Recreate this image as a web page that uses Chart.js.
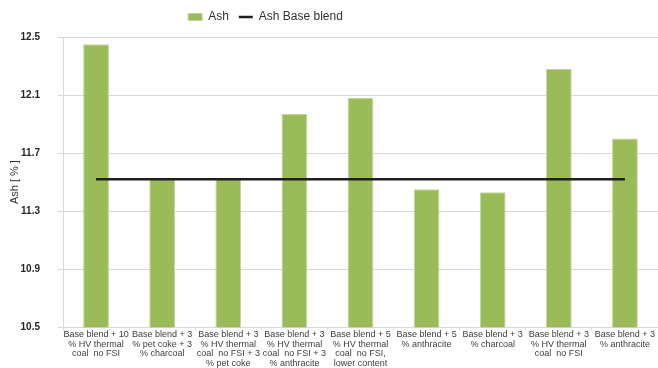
<!DOCTYPE html>
<html>
<head>
<meta charset="utf-8">
<script src="https://cdn.jsdelivr.net/npm/chart.js@4.4.1/dist/chart.umd.min.js"></script>
<style>
  html, body { margin: 0; padding: 0; background: #fff; }
  #wrap { width: 658px; height: 368px; }
</style>
</head>
<body>
<div id="wrap"><canvas id="c" width="658" height="368"></canvas></div>
<script>
// Blend recipes (one multi-line label per blend)
const categories = [
  ["Base blend + 10", "% HV thermal", "coal  no FSI"],
  ["Base blend + 3", "% pet coke + 3", "% charcoal"],
  ["Base blend + 3", "% HV thermal", "coal  no FSI + 3", "% pet coke"],
  ["Base blend + 3", "% HV thermal", "coal  no FSI + 3", "% anthracite"],
  ["Base blend + 5", "% HV thermal", "coal  no FSI,", "lower content"],
  ["Base blend + 5", "% anthracite"],
  ["Base blend + 3", "% charcoal"],
  ["Base blend + 3", "% HV thermal", "coal  no FSI"],
  ["Base blend + 3", "% anthracite"]
];

// Ash content of each blend [%]
const ashValues = [12.45, 11.53, 11.53, 11.97, 12.08, 11.45, 11.43, 12.28, 11.80];

// Ash content of the base blend [%], constant reference level
const ashBase = 11.52;
const ashBaseValues = [ashBase, ashBase, ashBase, ashBase, ashBase, ashBase, ashBase, ashBase, ashBase];

// Value axis
const yMin = 10.5;
const yMax = 12.5;
const yStep = 0.4;

const FONT = "'Liberation Sans', Arial, sans-serif";

// Keeps the legend centred over the left part of the figure, a little higher up
const legendShift = {
  id: 'legendShift',
  beforeDraw(chart) {
    const lg = chart.legend;
    if (lg && !lg._shifted) {
      lg.left = 2;
      lg.right = 529;
      lg.top -= 4;
      lg.bottom -= 4;
      lg._shifted = true;
    }
  }
};

new Chart(document.getElementById('c'), {
  type: 'bar',
  data: {
    labels: categories,
    datasets: [
      {
        type: 'line',
        label: 'Ash Base blend',
        data: ashBaseValues,
        borderColor: '#1f1f1f',
        backgroundColor: '#1f1f1f',
        borderWidth: 2.5,
        pointRadius: 0,
        pointHoverRadius: 0,
        pointStyle: 'line',
        order: 0
      },
      {
        type: 'bar',
        label: 'Ash',
        data: ashValues,
        backgroundColor: '#9bbb59',
        borderColor: '#c2d69b',
        borderWidth: 1,
        pointStyle: 'rect',
        barPercentage: 0.39,
        categoryPercentage: 1.0,
        order: 1
      }
    ]
  },
  options: {
    responsive: false,
    animation: false,
    devicePixelRatio: 1,
    layout: { padding: { left: 4, right: 0, top: 5, bottom: 0 } },
    plugins: {
      legend: {
        position: 'top',
        reverse: true,
        labels: {
          usePointStyle: true,
          pointStyleWidth: 14,
          boxHeight: 7,
          boxWidth: 14,
          padding: 10,
          color: '#333',
          font: { family: FONT, size: 12 }
        }
      },
      tooltip: { enabled: false }
    },
    scales: {
      x: {
        offset: true,
        grid: {
          offset: true,
          drawOnChartArea: false,
          drawTicks: true,
          tickLength: 3,
          color: '#d9d9d9'
        },
        border: { color: '#d9d9d9' },
        ticks: {
          autoSkip: false,
          maxRotation: 0,
          minRotation: 0,
          padding: 0,
          color: '#404040',
          font: { family: FONT, size: 9, lineHeight: 1.05 }
        }
      },
      y: {
        min: yMin,
        max: yMax,
        afterFit(scale) { scale.width = 59; },
        grid: {
          color: '#d9d9d9',
          tickLength: 5
        },
        border: { color: '#d9d9d9' },
        ticks: {
          stepSize: yStep,
          padding: 18,
          color: '#262626',
          font: { family: FONT, size: 10, weight: 'bold' },
          callback: (v) => Number(v).toFixed(1)
        },
        title: {
          display: true,
          text: 'Ash [ % ]',
          color: '#333',
          padding: { top: 4, bottom: 0 },
          font: { family: FONT, size: 11 }
        }
      }
    }
  },
  plugins: [legendShift]
});
</script>
</body>
</html>
